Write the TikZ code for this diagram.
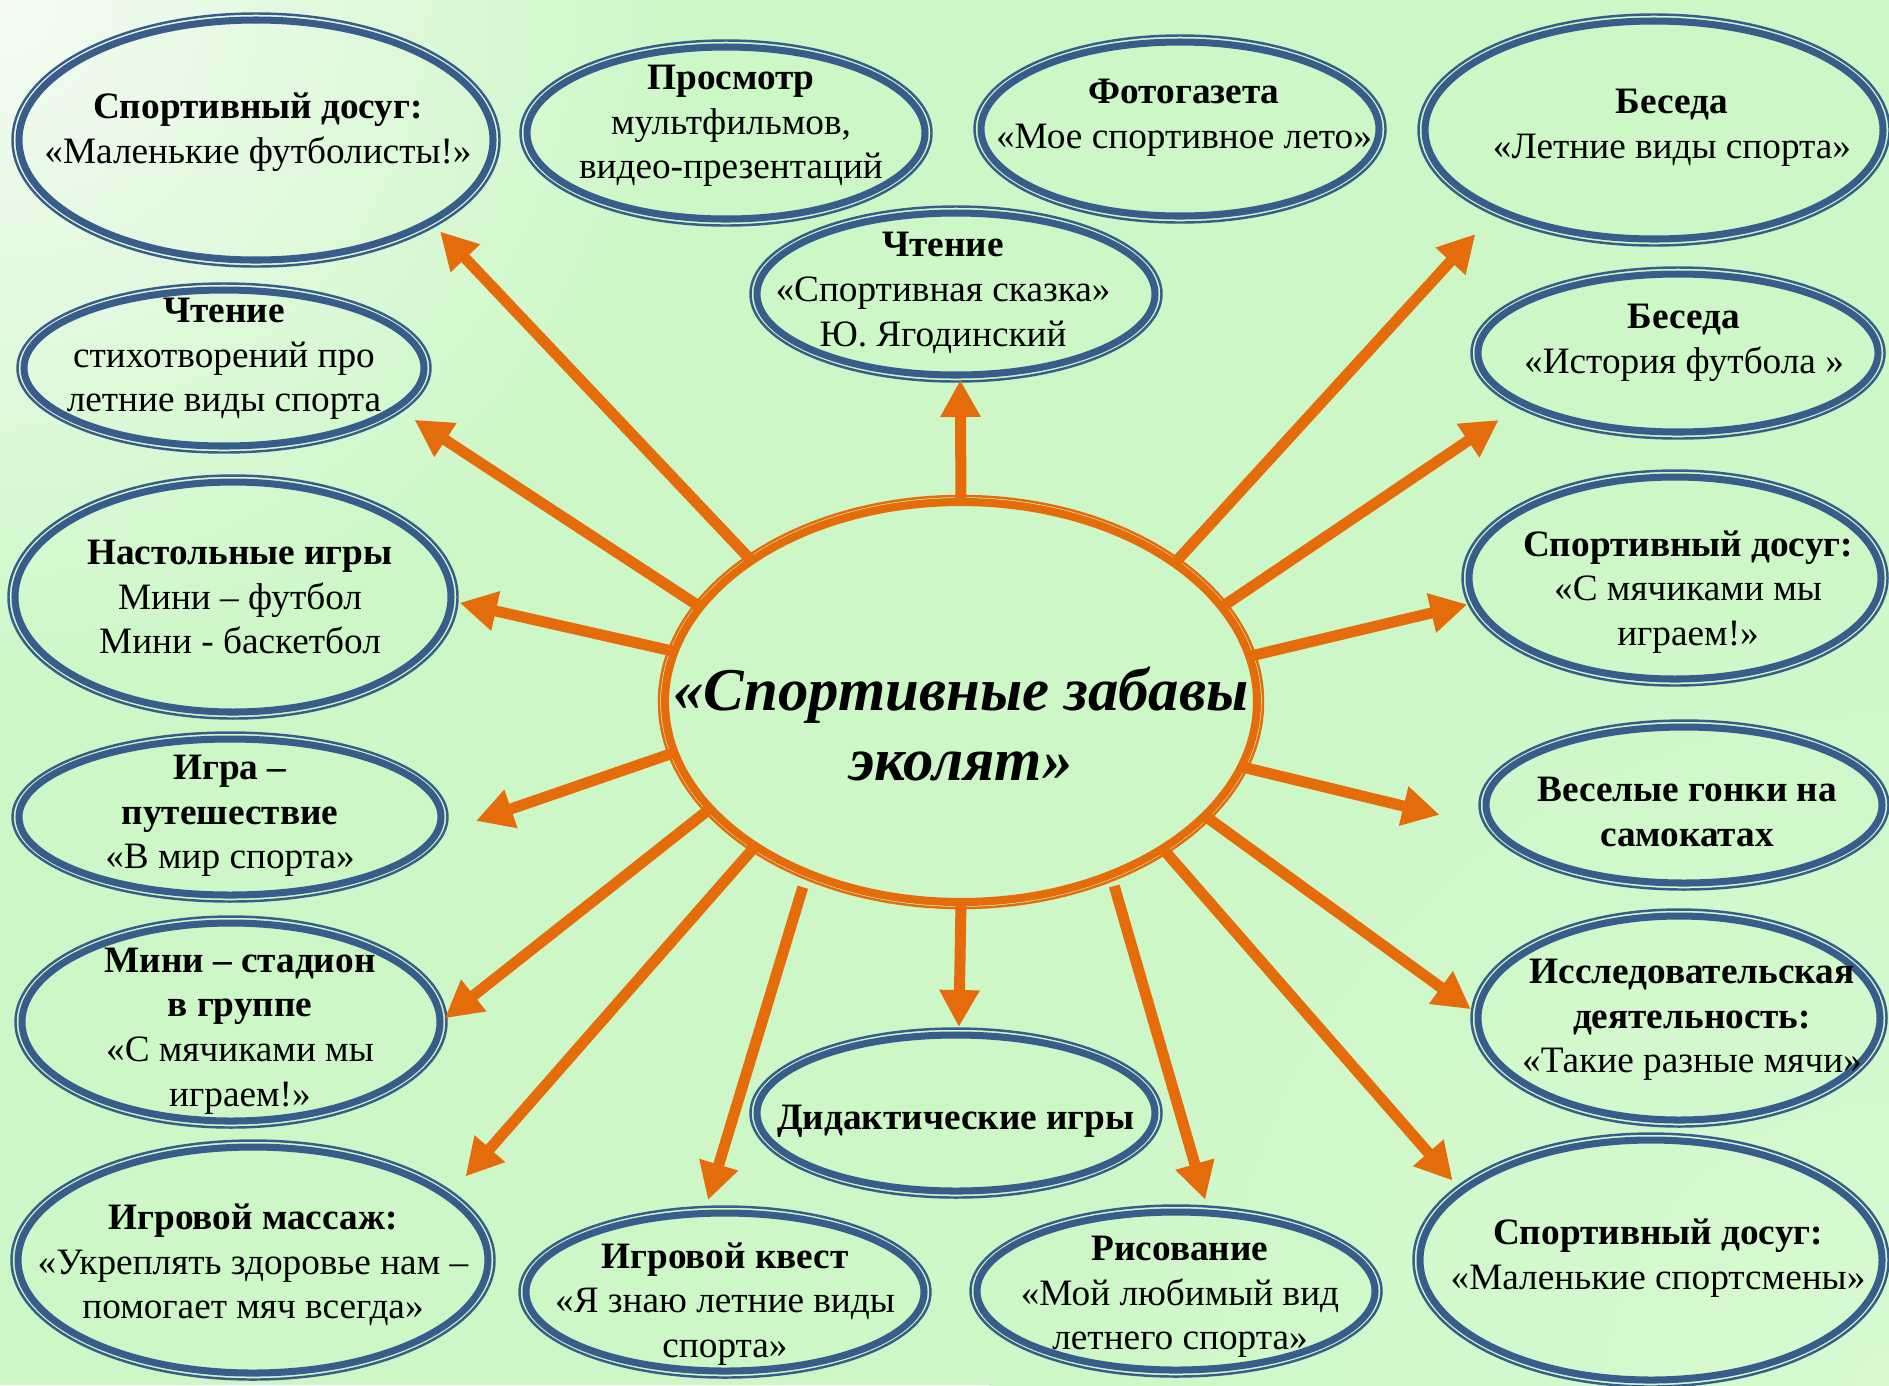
\documentclass[tikz,border=0pt]{standalone}
\usepackage{fontspec}
\setmainfont{Liberation Serif}
\usetikzlibrary{shapes.geometric}
\usetikzlibrary{arrows.meta}

\definecolor{ringblue}{RGB}{56,93,138}
\definecolor{rayorange}{RGB}{228,108,10}
\definecolor{bgpale}{RGB}{244,251,242}
\definecolor{bggreen}{RGB}{205,247,199}
\definecolor{bglight}{RGB}{216,249,210}

\tikzset{
    bubble/.style={ellipse,draw=ringblue,line width=2pt,outer sep=0pt,inner sep=0pt},
    ringline/.style={draw=ringblue,line width=0.7pt},
    bubtext/.style={align=center,inner sep=0pt,font=\fontsize{10.6}{12.7}\selectfont},
    hub/.style={ellipse,draw=rayorange,line width=2.3pt,outer sep=0pt,inner sep=0pt},
    hubring/.style={draw=rayorange,line width=0.7pt},
    hubtext/.style={align=center,inner sep=0pt,font=\bfseries\itshape\fontsize{17.3}{20}\selectfont},
    ray/.style={draw=rayorange,line width=0.11cm,-{Triangle[length=0.37cm,width=0.38cm]}},
}

% name, x, y, outer x radius, outer y radius, text offset, text
\newcommand{\bubble}[7]{%
    \node[bubble,minimum width={2*#4cm-0.14cm},minimum height={2*#5cm-0.14cm}] (#1) at (#2,#3) {};
    \draw[ringline] (#1.center) ellipse [x radius=#4-0.005, y radius=#5-0.005];
    \node[bubtext] (#1t) at ([shift={(#6)}]#1.center) {#7};
}

\begin{document}
\begin{tikzpicture}
\useasboundingbox (0,0) rectangle (18.89,-13.85);
\fill[bggreen] (0,0) rectangle (18.89,-13.85);
\begin{scope}
\clip (0,0) rectangle (18.89,-13.85);
\shade[inner color=bglight,outer color=bggreen] (18.89,-13.85) circle (9);
\shade[inner color=bgpale,outer color=bggreen] (0,0) circle (7);
\end{scope}

% centre
\node[hub,minimum width=5.92cm,minimum height=4.00cm] (hub) at (9.61,-7.02) {};
\draw[hubring] (hub.center) ellipse [x radius=3.02, y radius=2.06];
\node[hubtext] (hubt) at ([yshift=-0.22cm]hub.center) {«Спортивные забавы\\эколят»};

% top row
\bubble{e1}{2.56}{-1.40}{2.44}{1.27}{0.02,0.08}{\textbf{Спортивный досуг:}\\«Маленькие футболисты!»}
\bubble{e2}{7.26}{-1.33}{2.06}{0.93}{0.05,0.07}{\textbf{Просмотр}\\мультфильмов,\\видео-презентаций}
\bubble{e3}{11.80}{-1.29}{2.06}{0.94}{0.04,0.11}{\textbf{Фотогазета}\\«Мое спортивное лето»}
\bubble{e4}{16.54}{-1.30}{2.36}{1.16}{0.18,0.02}{\textbf{Беседа}\\«Летние виды спорта»}
\bubble{e5}{9.56}{-2.94}{2.06}{0.88}{-0.13,0.01}{\textbf{Чтение}\\«Спортивная сказка»\\Ю. Ягодинский}

% left column
\bubble{e6}{2.24}{-3.68}{2.07}{0.85}{0,0.09}{\textbf{Чтение}\\стихотворений про\\летние виды спорта}
\bubble{e8}{2.33}{-5.97}{2.25}{1.22}{0.07,0}{\textbf{Настольные игры}\\Мини – футбол\\Мини - баскетбол}
\bubble{e11}{2.30}{-8.17}{2.18}{0.85}{0,0.01}{\textbf{Игра –}\\\textbf{путешествие}\\«В мир спорта»}
\bubble{e13}{2.31}{-10.22}{2.16}{1.06}{0.09,-0.09}{\textbf{Мини – стадион}\\\textbf{в группе}\\«С мячиками мы\\играем!»}
\bubble{e16}{2.53}{-12.60}{2.42}{1.20}{0,-0.05}{\textbf{Игровой массаж:}\\«Укреплять здоровье нам –\\помогает мяч всегда»}

% right column
\bubble{e7}{16.78}{-3.53}{2.07}{0.86}{0.06,0.10}{\textbf{Беседа}\\«История футбола »}
\bubble{e9}{16.75}{-5.78}{2.13}{1.08}{0.13,-0.14}{\textbf{Спортивный досуг:}\\«С мячиками мы\\играем!»}
\bubble{e12}{16.84}{-8.05}{2.05}{0.85}{0.03,-0.07}{\textbf{Веселые гонки на}\\\textbf{самокатах}}
\bubble{e14}{16.79}{-10.18}{2.08}{1.09}{0.13,-0.02}{\textbf{Исследовательская}\\\textbf{деятельность:}\\«Такие разные мячи»}
\bubble{e19}{16.51}{-12.60}{2.38}{1.27}{0.07,0.02}{\textbf{Спортивный досуг:}\\«Маленькие спортсмены»}

% bottom row
\bubble{e15}{9.56}{-11.13}{2.06}{0.85}{0,-0.08}{\textbf{Дидактические игры}}
\bubble{e17}{7.25}{-12.92}{2.06}{0.86}{0,-0.12}{\textbf{Игровой квест}\\«Я знаю летние виды\\спорта»}
\bubble{e18}{11.76}{-12.91}{2.06}{0.86}{0.04,-0.06}{\textbf{Рисование}\\«Мой любимый вид\\летнего спорта»}

% rays from the centre
\foreach \a/\n/\b/\s/\g in {146.5/e1/-25.4/0.14/0, 90/e5/-87.2/0.05/0, 160.3/e6/-13.8/0.22/0,
    170.8/e8/-1.6/0.09/0, 190/e11/-5.7/0.43/0, 203.9/e13/0.8/0.06/0, 215/e16/18.7/0.27/0,
    228.5/e17/105.6/0.14/0.15, 270/e15/88/0.08/0, 311/e18/67.6/0.14/0.12, 324.7/e19/160.1/0.14/0,
    335.2/e14/179.8/0.09/0, 347.3/e12/187.4/0.57/0, 9.1/e9/187.1/0.08/0, 20.6/e7/198.8/0.30/0,
    33.8/e4/207.4/0.33/0}
    \draw[ray,shorten >=\s cm,shorten <=\g cm] (hub.\a) -- (\n.\b);
\end{tikzpicture}
\end{document}
